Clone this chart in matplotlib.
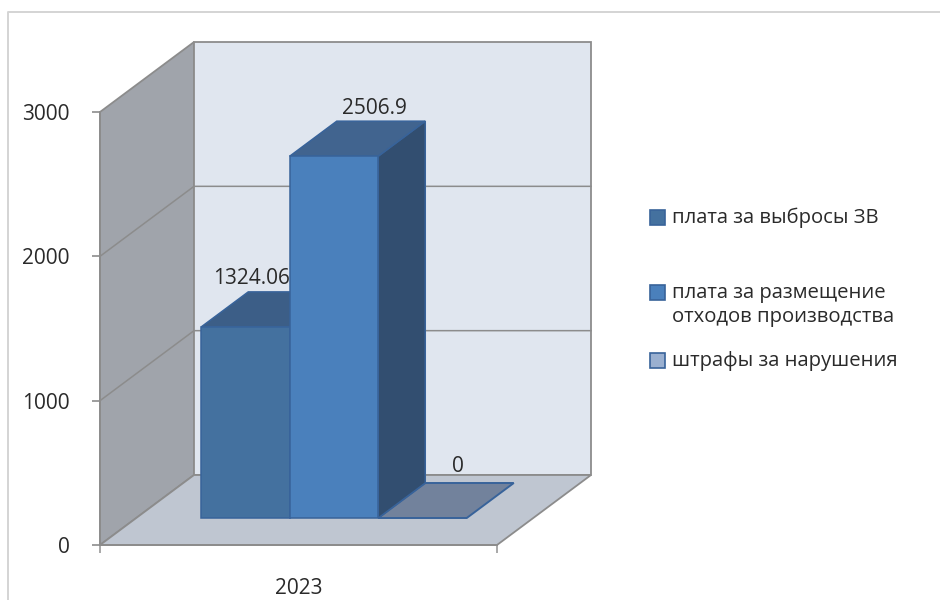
import matplotlib
matplotlib.use('Agg')
import matplotlib.pyplot as plt
from matplotlib.patches import Polygon, Rectangle

plt.rcParams['font.family'] = ['Open Sans', 'DejaVu Sans']

# --- Data ---
category = '2023'
series_names = ['плата за выбросы ЗВ',
                'плата за размещение\nотходов производства',
                'штрафы за нарушения']
series_values = [1324.06, 2506.9, 0]
value_labels = ['1324.06', '2506.9', '0']
y_ticks = [0, 1000, 2000, 3000]

# --- Style ---
W, H = 940, 600
GRID = '#8C8C8C'
TEXT = '#2A2A2A'
FRONT = ['#44719F', '#4A80BC', '#72829C']
TOP = ['#3C5E87', '#41648F', '#72829C']
SIDE = ['#324E70', '#324E70', '#324E70']
EDGE = '#38639A'
SWATCH = ['#44719F', '#4A80BC', '#9AB0D0']
FS = 15

# Depth of the 3D box: a full unit of depth shifts by these (data units)
DX = 94 / 397
DY = 70 / (433 / 3000)

fig = plt.figure(figsize=(W / 100, H / 100), dpi=100)
fig.patch.set_facecolor('white')
ax = fig.add_axes([100 / W, 1 - 545 / H, 397 / W, 433 / H])
ax.set_xlim(0, 1)
ax.set_ylim(0, 3000)
ax.patch.set_visible(False)


def proj(x, v, d):
    return (x + d * DX, v + d * DY)


def face(points, fc, ec=None, lw=1.1, z=1):
    ax.add_patch(Polygon(points, closed=True, facecolor=fc, edgecolor=ec or fc,
                         linewidth=lw, clip_on=False, zorder=z, joinstyle='miter'))


# --- Walls and floor ---
face([proj(0, 0, 0), proj(0, 0, 1), proj(0, 3000, 1), proj(0, 3000, 0)], '#A0A4AB', GRID, 1.3)
face([proj(0, 0, 1), proj(1, 0, 1), proj(1, 3000, 1), proj(0, 3000, 1)], '#E0E6EF', GRID, 1.3)
face([proj(0, 0, 0), proj(1, 0, 0), proj(1, 0, 1), proj(0, 0, 1)], '#BFC6D1', GRID, 1.3)

for t in y_ticks[1:-1]:
    xs, ys = zip(proj(0, t, 0), proj(0, t, 1), proj(1, t, 1))
    ax.plot(xs, ys, color=GRID, lw=1.1, clip_on=False, zorder=1.5)

# --- Bars ---
bar_x0 = 65 / 397
bar_w = 88.5 / 397
d0 = 27 / 70
d1 = 62 / 70
offsets = [(-41, 13), (-7, 13), (-12, 16)]

for i, v in enumerate(series_values):
    x0 = bar_x0 + i * bar_w
    x1 = x0 + bar_w
    if v > 0:
        face([proj(x1, 0, d0), proj(x1, 0, d1), proj(x1, v, d1), proj(x1, v, d0)], SIDE[i], EDGE, 1.1, 3 + i)
        face([proj(x0, v, d0), proj(x1, v, d0), proj(x1, v, d1), proj(x0, v, d1)], TOP[i], EDGE, 1.1, 3 + i)
        face([proj(x0, 0, d0), proj(x1, 0, d0), proj(x1, v, d0), proj(x0, v, d0)], FRONT[i], EDGE, 1.1, 3 + i)
    else:
        face([proj(x0, 0, d0), proj(x1, 0, d0), proj(x1, 0, d1), proj(x0, 0, d1)], TOP[i], EDGE, 1.4, 2)
    cx, cy = proj(x0 + bar_w / 2, v, d1)
    ax.annotate(value_labels[i], (cx, cy), xytext=offsets[i], textcoords='offset pixels',
                ha='center', va='center', fontsize=FS, color=TEXT, zorder=10,
                annotation_clip=False)

# --- Axes ---
for s in ['top', 'right']:
    ax.spines[s].set_visible(False)
for s in ['left', 'bottom']:
    ax.spines[s].set_color(GRID)
    ax.spines[s].set_linewidth(1.3)
    ax.spines[s].set_zorder(2)
ax.set_yticks(y_ticks)
ax.set_xticks([0, 1])
ax.set_xticklabels(['', ''])
ax.set_xticks([0.5], labels=[category], minor=True)
ax.tick_params(axis='y', length=5.8, width=1.2, color=GRID, pad=16, labelsize=FS, labelcolor=TEXT)
ax.tick_params(axis='x', which='major', length=5.8, width=1.2, color='#9A9A9A')
ax.tick_params(axis='x', which='minor', length=0, pad=24, labelsize=FS, labelcolor=TEXT)

# --- Legend (rows are unevenly spaced in the original) ---
legend_y = [217, 292, 360]
for name, c, y in zip(series_names, SWATCH, legend_y):
    fig.add_artist(Rectangle((650 / W, 1 - (y + 8) / H), 15 / W, 15 / H, transform=fig.transFigure,
                             facecolor=c, edgecolor=EDGE, linewidth=1.2))
    fig.text(672 / W, 1 - (y - 9) / H, name, ha='left', va='top', fontsize=14.6,
             color=TEXT, linespacing=1.27)

# --- Chart border: top and left only reach the visible crop ---
fig.add_artist(plt.Line2D([8 / W, 8 / W, 1], [0, 1 - 11.5 / H, 1 - 11.5 / H], transform=fig.transFigure,
                          color='#D4D4D4', linewidth=1.4))

fig.savefig('out.png', dpi=100)
